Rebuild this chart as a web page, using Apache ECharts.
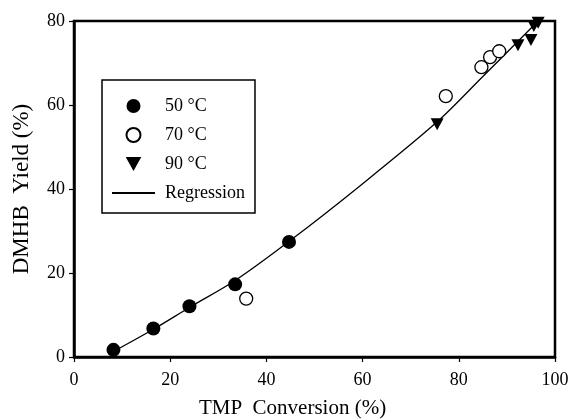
<!DOCTYPE html>
<html>
<head>
<meta charset="utf-8">
<script src="https://cdn.jsdelivr.net/npm/echarts@6/dist/echarts.min.js"></script>
<style>
  html, body { margin: 0; padding: 0; background: #fff; }
  #chart { width: 570px; height: 420px; }
</style>
</head>
<body>
<div id="chart"></div>
<script>
// values: [TMP conversion %, DMHB yield %]
var t50 = [[8.2, 1.7], [16.5, 6.8], [24.0, 12.1], [33.5, 17.3], [44.7, 27.4]];
var t70 = [[35.8, 13.9], [77.3, 62.1], [84.7, 69.0], [86.5, 71.4], [88.4, 72.8]];
var t90 = [[75.5, 55.4], [92.3, 74.2], [95.0, 75.5], [95.6, 78.8], [96.5, 79.6]];
// regression curve, points
var regression = [[8.2, 1.3], [16.5, 6.6], [24.0, 11.8], [33.5, 18.2], [44.8, 27.6],
  [59.5, 40.8], [75.5, 56.0], [85.0, 66.8], [96.5, 80.0]];

var seriesNames = ['50 °C', '70 °C', '90 °C', 'Regression'];
var xTitle = 'TMP  Conversion (%)';
var yTitle = 'DMHB  Yield (%)';

var font = 'Liberation Serif';
var downTriangle = 'path://M0,0L10,0L5,9Z';

var myChart = echarts.init(document.getElementById('chart'));

var option = {
  animation: false,
  backgroundColor: '#fff',
  grid: {
    left: 74, right: 15, top: 21, bottom: 63,
    outerBoundsMode: 'none',
    show: true, borderColor: '#000', borderWidth: 2.5
  },
  legend: {
    orient: 'vertical',
    left: 102, top: 80,
    data: seriesNames,
    itemWidth: 43, itemHeight: 14, itemGap: 11,
    padding: [17, 10, 11, 9],
    borderColor: '#000', borderWidth: 1.5,
    textStyle: { fontFamily: font, fontSize: 18, color: '#000', padding: [0, 0, 0, 5] }
  },
  xAxis: {
    type: 'value', min: 0, max: 100, interval: 20,
    name: xTitle, nameLocation: 'middle', nameGap: 41,
    nameTextStyle: { fontFamily: font, fontSize: 21, color: '#000', padding: [0, 44, 0, 0] },
    axisLine: { show: true, lineStyle: { color: '#000', width: 2.5 } },
    axisTick: { show: true, length: 5, lineStyle: { color: '#000', width: 1.2 } },
    axisLabel: { fontFamily: font, fontSize: 18, color: '#000', margin: 14 },
    splitLine: { show: false }
  },
  yAxis: {
    type: 'value', min: 0, max: 80, interval: 20,
    name: yTitle, nameLocation: 'middle', nameGap: 41,
    nameTextStyle: { fontFamily: font, fontSize: 23, color: '#000' },
    axisLine: { show: true, lineStyle: { color: '#000', width: 2.5 } },
    axisTick: { show: true, length: 5, lineStyle: { color: '#000', width: 1.2 } },
    axisLabel: { fontFamily: font, fontSize: 18, color: '#000', margin: 9 },
    splitLine: { show: false }
  },
  series: [
    {
      name: seriesNames[3], type: 'line', data: regression,
      smooth: 0.3, symbol: 'none', z: 1,
      lineStyle: { color: '#000', width: 1.3 },
      // transparent so the legend shows just the line
      itemStyle: { color: 'rgba(0,0,0,0)', borderWidth: 0 }
    },
    {
      name: seriesNames[0], type: 'scatter', data: t50,
      symbol: 'circle', symbolSize: 14, z: 3,
      itemStyle: { color: '#000', opacity: 1 }
    },
    {
      name: seriesNames[1], type: 'scatter', data: t70,
      symbol: 'circle', symbolSize: 13, z: 3,
      itemStyle: { color: '#fff', borderColor: '#000', borderWidth: 1.3, opacity: 1 }
    },
    {
      name: seriesNames[2], type: 'scatter', data: t90,
      symbol: downTriangle, symbolSize: [13, 12], z: 3,
      itemStyle: { color: '#000', opacity: 1 }
    }
  ]
};

myChart.setOption(option);
</script>
</body>
</html>
